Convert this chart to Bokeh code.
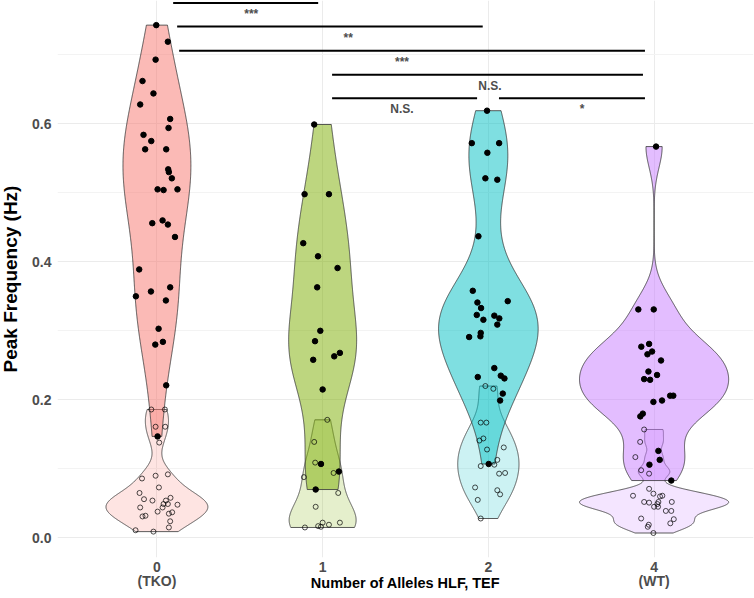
import numpy as np
from bokeh.plotting import figure
from bokeh.models import Range1d, FixedTicker, PrintfTickFormatter, ColumnDataSource
from bokeh.core.properties import value
from bokeh.embed import file_html
from bokeh.resources import INLINE

# ---------------- data ----------------
groups = ["0", "1", "2", "4"]
group_labels = ["0\n(TKO)", "1", "2", "4\n(WT)"]
colors = ["#F8766D", "#7CAE00", "#00BFC4", "#C77CFF"]

# high-frequency peak (filled points)
tko_high = [0.743, 0.719, 0.693, 0.662, 0.644, 0.628, 0.607, 0.594, 0.584, 0.575, 0.563, 0.563,
            0.534, 0.530, 0.521, 0.505, 0.504, 0.505, 0.456, 0.460, 0.454, 0.436, 0.389, 0.357,
            0.363, 0.350, 0.344, 0.303, 0.284, 0.280, 0.221, 0.147]
tko_high_jit = [-0.004, 0.066, -0.008, -0.087, -0.021, -0.101, 0.080, 0.070, -0.081, -0.034, -0.071, 0.056,
                0.068, 0.072, 0.090, 0.004, 0.040, 0.124, -0.028, 0.034, 0.066, 0.109, -0.107, -0.036,
                0.080, -0.127, 0.054, 0.010, 0.036, -0.010, 0.056, 0.004]
one_high = [0.599, 0.498, 0.498, 0.427, 0.408, 0.391, 0.363, 0.300, 0.285, 0.258, 0.263, 0.268,
            0.215, 0.107, 0.096, 0.070]
one_high_jit = [-0.051, -0.109, 0.038, -0.117, -0.028, 0.090, -0.033, -0.014, -0.046, -0.057, 0.070, 0.104,
                0.0, -0.010, 0.098, -0.042]
two_high = [0.619, 0.572, 0.572, 0.558, 0.521, 0.519, 0.437, 0.358, 0.343, 0.341, 0.333, 0.323,
            0.316, 0.322, 0.318, 0.309, 0.297, 0.292, 0.291, 0.246, 0.233, 0.235, 0.231, 0.209,
            0.199, 0.107]
two_high_jit = [-0.008, -0.100, 0.065, -0.006, -0.018, 0.054, -0.060, -0.094, 0.117, -0.066, -0.044, -0.070,
                -0.030, 0.036, 0.066, 0.054, -0.046, -0.048, -0.116, 0.036, -0.064, 0.075, 0.097, 0.087,
                0.071, 0.002]
wt_high = [0.567, 0.331, 0.331, 0.277, 0.281, 0.270, 0.266, 0.257, 0.241, 0.236, 0.230, 0.229,
           0.206, 0.206, 0.199, 0.197, 0.180, 0.176, 0.126, 0.113, 0.106, 0.083]
wt_high_jit = [0.012, -0.095, -0.002, -0.077, -0.030, -0.012, -0.040, 0.042, -0.034, 0.018, -0.060, -0.024,
               0.097, 0.116, 0.048, -0.004, -0.068, -0.083, 0.026, 0.034, -0.028, 0.104]

# low-frequency peak (open points)
tko_low = [0.186, 0.186, 0.161, 0.161, 0.138, 0.086, 0.090, 0.092, 0.073, 0.065, 0.056, 0.054,
           0.058, 0.054, 0.049, 0.049, 0.048, 0.044, 0.044, 0.038, 0.035, 0.037, 0.031, 0.032,
           0.024, 0.015, 0.011, 0.009]
tko_low_jit = [-0.034, 0.048, -0.008, 0.050, 0.014, -0.090, -0.008, 0.066, 0.012, -0.105, -0.078, -0.027,
               0.082, 0.054, 0.040, 0.066, 0.124, 0.034, -0.101, 0.004, 0.072, 0.092, -0.087, -0.069,
               0.080, 0.072, -0.129, -0.021]
one_low = [0.171, 0.139, 0.109, 0.094, 0.088, 0.065, 0.045, 0.022, 0.019, 0.022, 0.017, 0.016, 0.015]
one_low_jit = [0.028, -0.051, -0.045, 0.066, -0.113, 0.094, -0.042, 0.104, 0.038, 0.0, -0.027, -0.010, -0.107]
two_low = [0.220, 0.216, 0.167, 0.167, 0.144, 0.141, 0.131, 0.128, 0.113, 0.104, 0.106, 0.093,
           0.094, 0.073, 0.069, 0.063, 0.055, 0.028]
two_low_jit = [-0.018, 0.030, -0.046, -0.012, -0.030, -0.054, 0.093, -0.008, 0.054, -0.046, 0.036, 0.065,
               0.101, -0.080, 0.054, 0.071, -0.064, -0.046]
wt_low = [0.157, 0.139, 0.117, 0.098, 0.093, 0.071, 0.061, 0.064, 0.060, 0.061, 0.052, 0.051,
          0.052, 0.052, 0.049, 0.045, 0.045, 0.039, 0.039, 0.028, 0.027, 0.021, 0.019, 0.016, 0.007]
wt_low_jit = [-0.060, -0.084, -0.113, -0.078, -0.030, -0.030, -0.127, -0.004, 0.036, 0.050, -0.060, -0.030,
              0.026, 0.107, 0.020, 0.0, 0.024, 0.071, 0.104, -0.078, 0.119, 0.098, -0.032, -0.038, -0.004]

high_sets = [(tko_high, tko_high_jit), (one_high, one_high_jit), (two_high, two_high_jit), (wt_high, wt_high_jit)]
low_sets = [(tko_low, tko_low_jit), (one_low, one_low_jit), (two_low, two_low_jit), (wt_low, wt_low_jit)]

# significance annotations (positions in group-index units, y in Hz)
sig_xmin = [0.098, 0.122, 0.134, 1.057, 1.057, 2.064]
sig_xmax = [0.973, 1.966, 2.945, 2.933, 1.932, 2.945]
sig_y = [0.775, 0.741, 0.706, 0.671, 0.637, 0.637]
sig_text = ["***", "**", "***", "N.S.", "N.S.", "*"]
sig_text_x = [0.569, 1.154, 1.479, 2.010, 1.479, 2.565]

FONT = "Liberation Sans"


def kde(vals, n=512):
    x = np.asarray(vals, dtype=float)
    nn = len(x)
    sd = x.std(ddof=1)
    q75, q25 = np.percentile(x, [75, 25])
    lo = min(sd, (q75 - q25) / 1.34)
    if lo <= 0:
        lo = sd
    bw = 0.9 * lo * nn ** (-0.2)
    grid = np.linspace(x.min(), x.max(), n)
    d = np.exp(-0.5 * ((grid[:, None] - x[None, :]) / bw) ** 2).sum(axis=1) / (nn * bw * np.sqrt(2 * np.pi))
    return grid, d


p = figure(frame_width=696, frame_height=557, output_backend="svg", toolbar_location=None,
           x_range=Range1d(-0.6, 3.6), y_range=Range1d(-0.0285, 0.7787),
           min_border_left=52, min_border_right=1, min_border_top=8, min_border_bottom=20)
p.margin = (-8, 0, -60, -3)
p.background_fill_color = "white"
p.border_fill_color = "white"
p.outline_line_color = None

# violins: each layer (low / high peak) scaled by its own maximum density
xs_list, ys_list, fills, alphas = [], [], [], []
for sets, alpha in ((low_sets, 0.2), (high_sets, 0.5)):
    layer = [kde(v) for v, _ in sets]
    maxd = max(d.max() for _, d in layer)
    for i, (grid, d) in enumerate(layer):
        hw = 0.45 * d / maxd
        xs_list.append(list(np.concatenate([i - hw, (i + hw)[::-1]])))
        ys_list.append(list(np.concatenate([grid, grid[::-1]])))
        fills.append(colors[i])
        alphas.append(alpha)
p.patches(xs="xs", ys="ys", fill_color="fill", fill_alpha="alpha", line_color="#333333", line_width=0.8,
          source=ColumnDataSource(dict(xs=xs_list, ys=ys_list, fill=fills, alpha=alphas)))

# points
hx, hy, lx, ly = [], [], [], []
for i in range(4):
    v, j = high_sets[i]
    hx += [i + jj for jj in j]
    hy += list(v)
    v, j = low_sets[i]
    lx += [i + jj for jj in j]
    ly += list(v)
p.scatter(lx, ly, marker="circle", size=5, fill_color=None, line_color="black", line_width=0.7)
p.scatter(hx, hy, marker="circle", size=5.5, fill_color="black", line_color="black")

# significance bars
p.segment(x0=sig_xmin, y0=sig_y, x1=sig_xmax, y1=sig_y, line_color="black", line_width=2)
p.text(x=sig_text_x, y=sig_y, text=sig_text, text_font=value(FONT), text_font_style="bold",
       text_font_size="12px", text_color="#4D4D4D", text_align="center", text_baseline="top", y_offset=4)

# axes
p.xaxis.ticker = FixedTicker(ticks=[0, 1, 2, 3])
p.xaxis.major_label_overrides = {i: group_labels[i] for i in range(4)}
p.yaxis.ticker = FixedTicker(ticks=[0.0, 0.2, 0.4, 0.6], minor_ticks=[0.1, 0.3, 0.5, 0.7])
p.yaxis.formatter = PrintfTickFormatter(format="%.1f")
for ax in (p.xaxis, p.yaxis):
    ax.axis_line_color = None
    ax.major_tick_line_color = None
    ax.minor_tick_line_color = None
    ax.major_label_text_font = FONT
    ax.major_label_text_font_style = "bold"
    ax.major_label_text_font_size = "14px"
    ax.major_label_text_color = "#4D4D4D"
    ax.axis_label_text_font = FONT
    ax.axis_label_text_font_style = "bold"
    ax.axis_label_text_color = "black"
    ax.major_label_standoff = 0
p.xaxis.major_tick_out = 0
p.xaxis.major_tick_in = 0
p.xaxis.minor_tick_out = 0
p.xaxis.major_label_standoff = 1
p.xaxis.major_label_text_line_height = 0.9
p.xaxis.axis_label = "Number of Alleles HLF, TEF"
p.xaxis.axis_label_text_font_size = "14.5px"
p.xaxis.axis_label_standoff = -17
p.yaxis.axis_label = "Peak Frequency (Hz)"
p.yaxis.axis_label_text_font_size = "19px"
p.yaxis.axis_label_standoff = 8

p.xgrid.grid_line_color = "#EBEBEB"
p.ygrid.grid_line_color = "#EBEBEB"
p.ygrid.minor_grid_line_color = "#F3F3F3"

open("out.html", "w").write(file_html(p, INLINE))
